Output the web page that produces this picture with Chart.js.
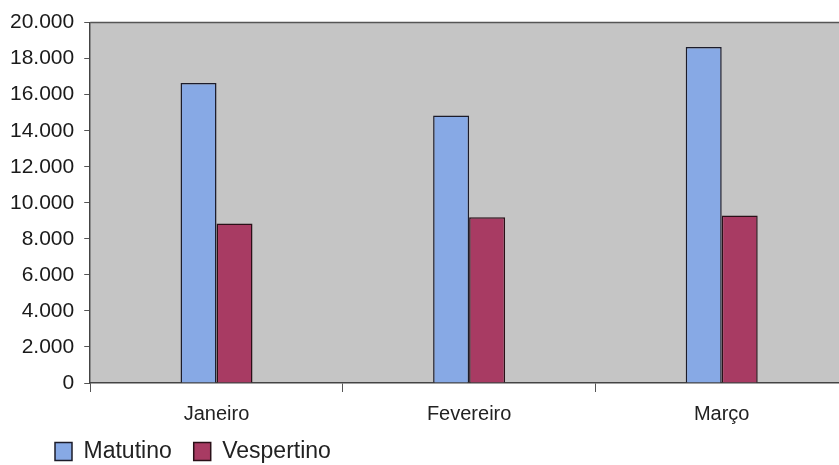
<!DOCTYPE html>
<html>
<head>
<meta charset="utf-8">
<script src="https://cdn.jsdelivr.net/npm/chart.js@4.4.1/dist/chart.umd.min.js"></script>
<style>
  html, body { margin: 0; padding: 0; background: #fff; overflow: hidden; }
  #wrap { position: relative; width: 848px; height: 465px; }
</style>
</head>
<body>
<div id="wrap"><canvas id="chart" width="848" height="465"></canvas></div>
<script>
  const months = ["Janeiro", "Fevereiro", "Março"];
  const matutino = [16650, 14850, 18650];
  const vespertino = [8850, 9200, 9300];
  const yTicks = ["0", "2.000", "4.000", "6.000", "8.000", "10.000", "12.000", "14.000", "16.000", "18.000", "20.000"];

  const plotBg = {
    id: "plotBg",
    beforeDraw(chart) {
      const { ctx, chartArea: a } = chart;
      ctx.save();
      ctx.fillStyle = "#c5c5c5";
      ctx.fillRect(a.left, a.top, a.right - a.left, a.bottom - a.top);
      ctx.strokeStyle = "#555";
      ctx.lineWidth = 1.5;
      ctx.beginPath();
      ctx.moveTo(a.left, a.top);
      ctx.lineTo(a.right, a.top);
      ctx.stroke();
      ctx.restore();
    },
    afterLayout(chart) {
      // legend sits further right and lower than Chart.js puts it
      const lg = chart.legend;
      lg.left += 33;
      lg.right += 33;
      lg.top += 8;
      lg.bottom += 8;
      // x labels hang below the squeezed axis box, so widen its clip area
      chart.scales.x.bottom += 30;
    }
  };

  const axisFont = { family: "'Liberation Sans', Arial, sans-serif", size: 21 };

  new Chart(document.getElementById("chart"), {
    type: "bar",
    data: {
      labels: months,
      datasets: [
        {
          label: "Matutino",
          data: matutino,
          backgroundColor: "#87a9e5",
          borderColor: "#1c1c2a",
          borderWidth: 1.5
        },
        {
          label: "Vespertino",
          data: vespertino,
          backgroundColor: "#a83b63",
          borderColor: "#2a1018",
          borderWidth: 1.5
        }
      ]
    },
    plugins: [plotBg],
    options: {
      responsive: false,
      animation: false,
      layout: { padding: { left: 0, top: 22, right: 0, bottom: 0 } },
      datasets: {
        bar: { categoryPercentage: 0.285, barPercentage: 1 }
      },
      plugins: {
        tooltip: { enabled: false },
        legend: {
          position: "bottom",
          align: "start",
          labels: {
            boxWidth: 17,
            boxHeight: 18,
            padding: 22,
            color: "#222",
            font: { family: "'Liberation Sans', Arial, sans-serif", size: 23 }
          }
        }
      },
      scales: {
        x: {
          offset: true,
          grid: {
            offset: true,
            drawOnChartArea: false,
            drawTicks: true,
            tickLength: 9,
            color: "#555"
          },
          border: { color: "#444", width: 1.5 },
          ticks: {
            color: "#222",
            padding: 10,
            font: { family: "'Liberation Sans', Arial, sans-serif", size: 20 }
          },
          afterFit(scale) { scale.height = 27; }
        },
        y: {
          min: 0,
          max: 20000,
          grid: {
            drawOnChartArea: false,
            drawTicks: true,
            tickLength: 6,
            color: "#555"
          },
          border: { color: "#444", width: 1.5 },
          ticks: {
            stepSize: 2000,
            color: "#1a1a1a",
            padding: 10,
            font: axisFont,
            callback: (v, i) => yTicks[i]
          }
        }
      }
    }
  });
</script>
</body>
</html>
